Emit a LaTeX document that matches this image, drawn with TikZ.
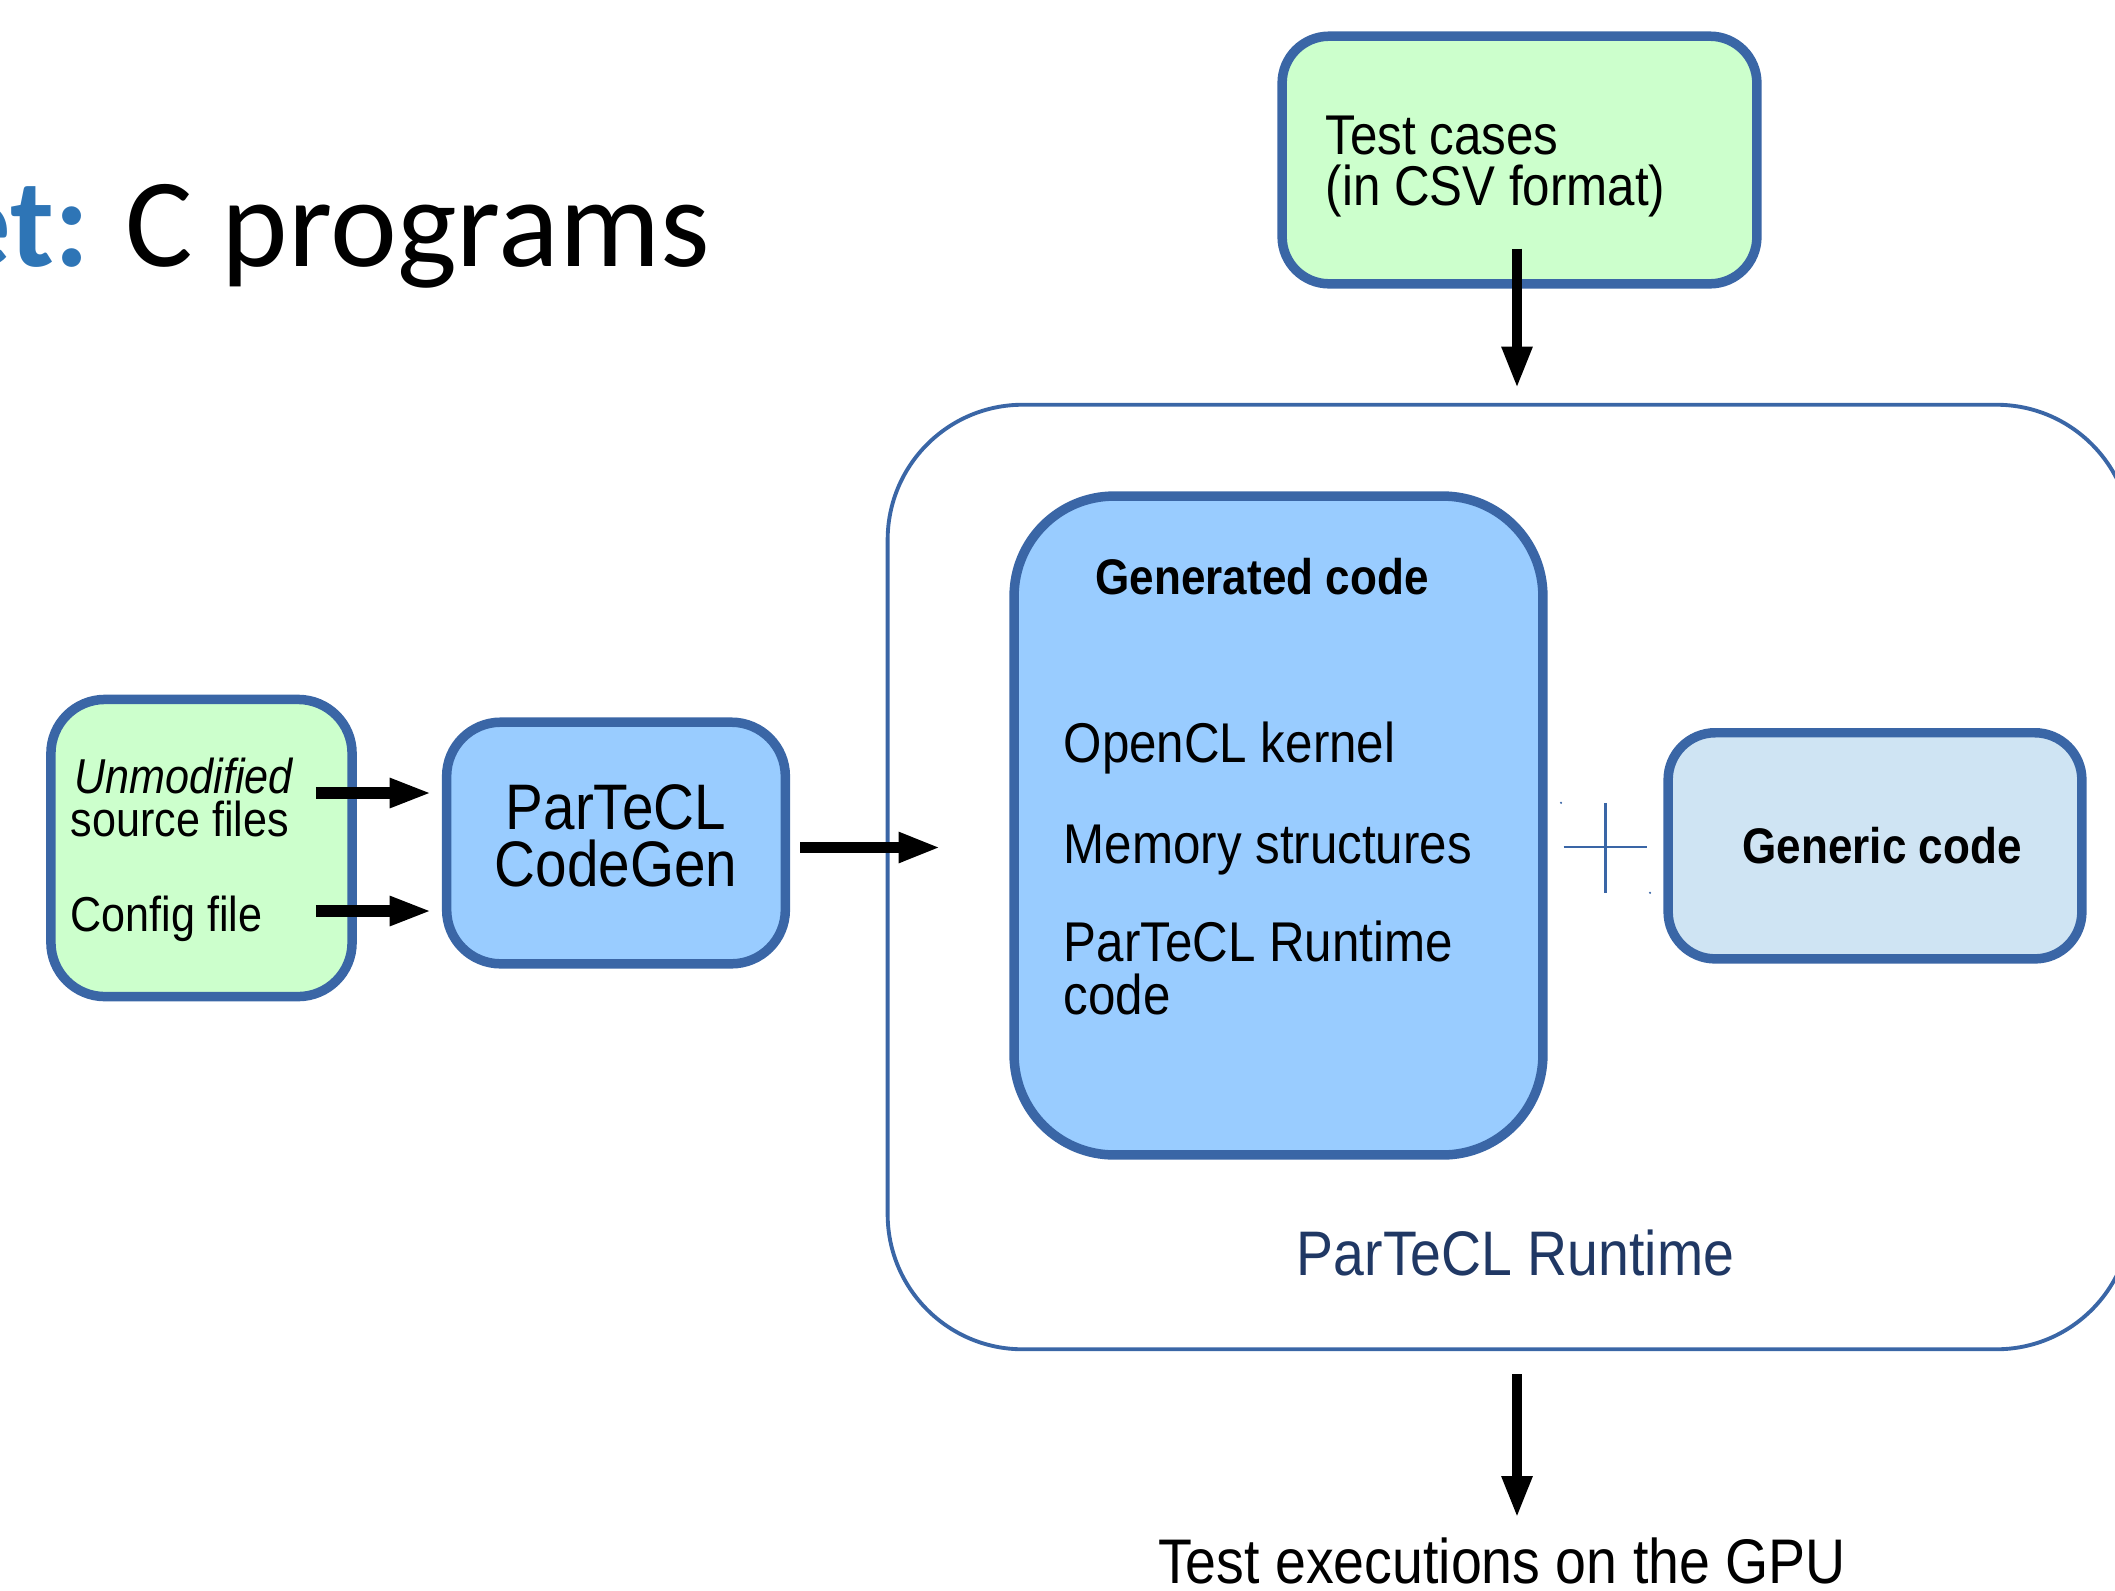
\documentclass[tikz,border=0pt]{standalone}
\usepackage{fontspec}
\setmainfont{Liberation Sans}
\newfontfamily\diagfont[FakeStretch=0.88]{Liberation Sans}
\newfontfamily\headfont{Carlito}
\usetikzlibrary{arrows.meta,calc}

\definecolor{edgeblue}{RGB}{58,102,166}
\definecolor{inputgreen}{RGB}{204,255,204}
\definecolor{toolblue}{RGB}{153,204,255}
\definecolor{paleblue}{RGB}{207,228,243}
\definecolor{headblue}{RGB}{46,117,182}
\definecolor{runnavy}{RGB}{32,56,100}

\begin{document}
\begin{tikzpicture}[x=0.01cm,y=-0.01cm,
  inbox/.style={draw=edgeblue, line width=2.7pt, fill=inputgreen, inner sep=0pt},
  toolbox/.style={draw=edgeblue, line width=2.7pt, fill=toolblue, inner sep=0pt},
  genbox/.style={draw=edgeblue, line width=2.7pt, fill=paleblue, inner sep=0pt},
  frame/.style={draw=edgeblue, line width=1.1pt, inner sep=0pt},
  txt/.style={inner sep=0pt},
  flow/.style={-{Triangle[length=12pt,width=8pt]}, line width=3pt, black},
  feed/.style={-{Triangle[length=12pt,width=7.7pt]}, line width=3.4pt, black},
  plus/.style={draw=edgeblue, line width=0.6pt},
  smallfont/.style={font=\diagfont\fontsize{13.94}{13.94}\selectfont},
  itemfont/.style={font=\diagfont\fontsize{15.93}{14.8}\selectfont},
  boldfont/.style={font=\diagfont\bfseries\fontsize{14.23}{14.23}\selectfont},
]
\useasboundingbox (0,0) rectangle (2115,1590);
\clip (0,0) rectangle (2115,1590);

% heading
\node[txt, anchor=base east, font=\headfont\bfseries\fontsize{36}{40}\selectfont, text=headblue] (titlekey) at (90,266) {et:};
\node[txt, anchor=base west, font=\headfont\fontsize{36}{40}\selectfont] (titletext) at (125,266) {C programs};

% test case input
\node[inbox, rounded corners=0.47cm, minimum width=4.745cm, minimum height=2.475cm] (tc) at (1519.5,160) {};
\node[txt, anchor=base west, align=left, font=\diagfont\fontsize{15.93}{14.23}\selectfont] (tctext) at (1325,205)
  {Test cases\\(in CSV format)};

% program inputs
\node[inbox, rounded corners=0.54cm, minimum width=3.01cm, minimum height=2.97cm] (src) at (201.5,848) {};
\node[txt, smallfont, anchor=base west] (unmod) at (74,793) {\itshape Unmodified};
\node[txt, smallfont, anchor=base west] (srcfiles) at (70,836) {source files};
\node[txt, smallfont, anchor=base west] (cfg) at (70,931) {Config file};

% code generator
\node[toolbox, rounded corners=0.54cm, minimum width=3.385cm, minimum height=2.415cm] (cg) at (616,843) {};
\node[txt, anchor=base, align=center, font=\diagfont\fontsize{18.3}{15.93}\selectfont] (cgtext) at (616,886)
  {ParTeCL\\CodeGen};

% runtime frame
\node[frame, rounded corners=1.35cm, minimum width=12.43cm, minimum height=9.44cm] (rt) at (1509.5,877) {};
\node[txt, anchor=base, text=runnavy, font=\diagfont\fontsize{17.9}{17.9}\selectfont] (rtlabel) at (1515.5,1275)
  {ParTeCL Runtime};

% generated code block
\node[toolbox, rounded corners=1.0cm, minimum width=5.285cm, minimum height=6.585cm] (gen) at (1278.5,825.5) {};
\node[txt, boldfont, anchor=base west] (genhead) at (1095,594) {Generated code};
\node[txt, itemfont, anchor=base west] (kernel) at (1063,762) {OpenCL kernel};
\node[txt, itemfont, anchor=base west] (memory) at (1063,863) {Memory structures};
\node[txt, itemfont, anchor=base west, align=left] (rtcode) at (1063,1014) {ParTeCL Runtime\\code};

% generic code block
\node[genbox, boldfont, rounded corners=0.47cm, minimum width=4.135cm, minimum height=2.26cm] (gc) at (1875,845.8)
  {\hspace*{0.14cm}Generic code};

% plus sign between the two code blocks
\coordinate (pc) at ($(gen.east |- gc.west)!0.5!(gc.west)$);
\draw[plus] ($(gen.east |- gc.west)+(16,1.5)$) -- ($(gc.west)+(-16,1.5)$);
\draw[plus] ($(pc)+(0,-43)$) -- ($(pc)+(0,47)$);
\fill[edgeblue] ($(pc)+(-44.5,-43)$) circle (0.012cm);
\fill[edgeblue] ($(pc)+(44.5,47)$) circle (0.012cm);

% connectors
\draw[feed] ($(src.east |- unmod.base)+(-41,0)$) -- ($(cg.west |- unmod.base)+(-10,0)$);
\draw[feed] ($(src.east)+(-41,63)$) -- ($(cg.west |- src.east)+(-10,63)$);
\draw[flow] ($(cg.east)+(10,4.5)$) -- ($(rt.west |- cg.east)+(55,4.5)$);
\draw[flow] ($(tc.south)+(-2.5,-40)$) -- ($(tc.south |- rt.north)+(-2.5,-14)$);
\draw[flow] ($(tc.south |- rt.south)+(-2.5,23)$) -- ($(tc.south |- rt.south)+(-2.5,167)$);

% result
\node[txt, anchor=base, font=\diagfont\fontsize{17.93}{17.93}\selectfont] (gpu) at (1502,1583)
  {Test executions on the GPU};
\end{tikzpicture}
\end{document}
